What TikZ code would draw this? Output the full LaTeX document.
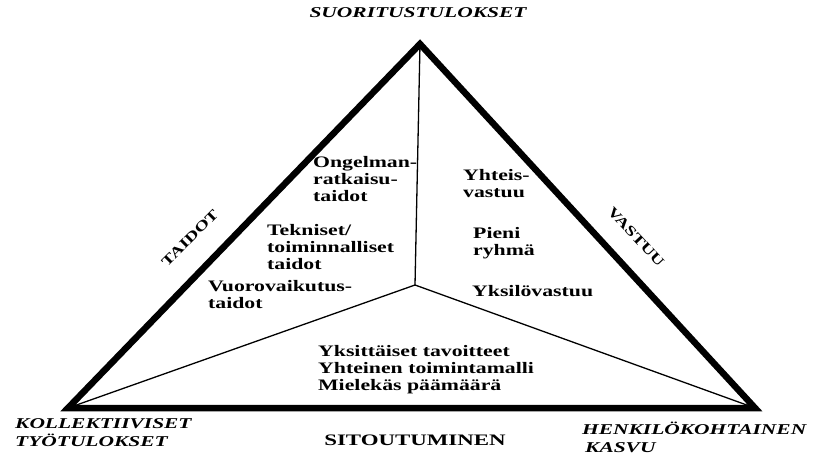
\documentclass[tikz,border=0pt]{standalone}
\usepackage{fontspec}
\setmainfont{Liberation Serif}
\newfontfamily\bodyf{Liberation Serif}[FakeStretch=1.36]
\newfontfamily\titlef{Liberation Serif}[FakeStretch=1.43]
\tikzset{
  outer/.style={line width=6.5pt, line join=miter},
  inner/.style={line width=1.3pt},
  body/.style={font=\bodyf\bfseries\fontsize{16}{17}\selectfont, align=left, inner sep=0pt, anchor=west},
  title/.style={font=\titlef\bfseries\itshape\fontsize{15}{18}\selectfont, align=left, inner sep=0pt},
  side/.style={font=\bodyf\bfseries\fontsize{14}{16}\selectfont, inner sep=0pt}
}
\begin{document}
\begin{tikzpicture}[x=1pt,y=-1pt]
\useasboundingbox[fill=white] (0,0) rectangle (813,454);
\coordinate (A) at (420,44);
\coordinate (L) at (68,408);
\coordinate (R) at (755,408);
\coordinate (C) at (415,285);
\draw[inner] (C) -- (A);
\draw[inner] (C) -- (L);
\draw[inner] (C) -- (R);
\draw[outer] (A) -- (L) -- (R) -- cycle;

\node[title, anchor=center] (top) at (418,13) {SUORITUSTULOKSET};
\node[title, anchor=west] (kol) at (15,433) {KOLLEKTIIVISET\\TYÖTULOKSET};
\node[title, anchor=west] (hen) at (582,437) {HENKILÖKOHTAINEN\\\hspace{3pt}KASVU};
\node[title, font=\titlef\bfseries\fontsize{16}{20}\selectfont, anchor=center] (sit) at (415,440) {SITOUTUMINEN};
\node[side, rotate=45] (taidot) at (190,238) {TAIDOT};
\node[side, rotate=-47] (vastuu) at (636,237) {VASTUU};

\node[body] (ong) at (313,179) {Ongelman-\\ratkaisu-\\taidot};
\node[body] (tek) at (267,247) {Tekniset/\\toiminnalliset\\taidot};
\node[body] (vuo) at (208,295) {Vuorovaikutus-\\taidot};
\node[body] (yht) at (463,184) {Yhteis-\\vastuu};
\node[body] (pie) at (473,243) {Pieni\\ryhmä};
\node[body] (yks) at (472,291) {Yksilövastuu};
\node[body] (bot) at (318,370) {Yksittäiset tavoitteet\\Yhteinen toimintamalli\\Mielekäs päämäärä};
\end{tikzpicture}
\end{document}
